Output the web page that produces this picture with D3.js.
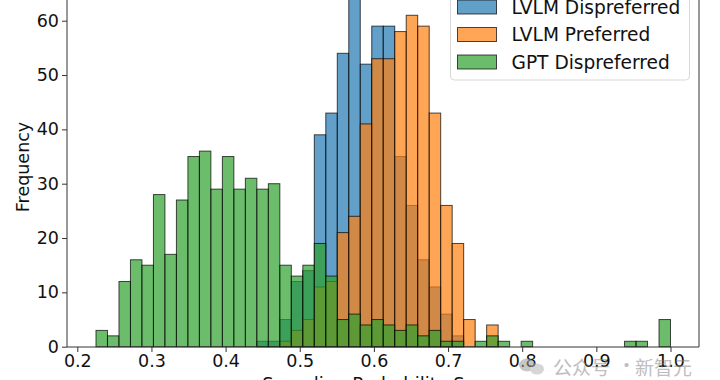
<!DOCTYPE html>
<html>
<head>
<meta charset="utf-8">
<script src="https://cdn.jsdelivr.net/npm/d3@7"></script>
<style>
  html, body { margin: 0; padding: 0; background: #fff; }
  svg { display: block; font-family: "DejaVu Sans", sans-serif; }
</style>
</head>
<body>
<svg id="chart" width="720" height="380"></svg>
<script>
// ---- Data (histogram counts per bin, 50 shared bins) ----
const binStart = 0.2252;
const binEnd = 1.0;
const binCount = 50;
const seriesNames = ["LVLM Dispreferred", "LVLM Preferred", "GPT Dispreferred"];
const lvlmDispreferred = [0,0,0,0,0,0,0,0,0,0, 0,0,0,0,1,1,5,12,14,39, 43,54,65,52,59,59,35,26,16,11, 6,2,0,0,0,0,0,0,0,0, 0,0,0,0,0,0,0,0,0,0];
const lvlmPreferred    = [0,0,0,0,0,0,0,0,0,0, 0,0,0,0,0,0,1,3,5,11, 12,21,24,41,53,53,58,61,59,43, 26,19,5,0,4,0,0,0,0,0, 0,0,0,0,0,0,0,0,0,0];
const gptDispreferred  = [3,2,12,16,15,28,17,27,35,36, 29,35,29,31,29,30,15,13,15,19, 13,5,6,4,5,4,3,4,2,3, 1,1,0,1,2,1,0,1,0,0, 0,0,0,0,0,0,1,1,0,5];
const xTicks = [0.2, 0.3, 0.4, 0.5, 0.6, 0.7, 0.8, 0.9, 1.0];
const yTicks = [0, 10, 20, 30, 40, 50, 60];
const colors = ["#1f77b4", "#ff7f0e", "#2ca02c"];
const xLabel = "Sampling Probability Score";
const yLabel = "Frequency";
const watermark = ["公众号", "·", "新智元"];

const allSeries = [lvlmDispreferred, lvlmPreferred, gptDispreferred];

// ---- Layout ----
const svg = d3.select("#chart");
const plotLeft = 67, plotRight = 699, plotBottom = 347, plotTop = -30;

const x = d3.scaleLinear().domain([0.2, 1.0]).range([77.3, 670.5]);
const y = d3.scaleLinear().domain([0, 60]).range([346.7, 20.7]);

const binW = (binEnd - binStart) / binCount;

// bars
allSeries.forEach((vals, si) => {
  svg.append("g").selectAll("rect")
    .data(vals.map((v, i) => ({ v, i })).filter(d => d.v > 0))
    .join("rect")
    .attr("x", d => x(binStart + d.i * binW))
    .attr("width", d => x(binStart + (d.i + 1) * binW) - x(binStart + d.i * binW))
    .attr("y", d => y(d.v))
    .attr("height", d => y(0) - y(d.v))
    .attr("fill", colors[si])
    .attr("fill-opacity", 0.7)
    .attr("stroke", "#000")
    .attr("stroke-opacity", 0.7)
    .attr("stroke-width", 1);
});

// spines
const axisColor = "#333";
svg.append("line").attr("x1", plotLeft).attr("x2", plotLeft).attr("y1", plotTop).attr("y2", plotBottom)
  .attr("stroke", axisColor).attr("stroke-width", 1);
svg.append("line").attr("x1", plotRight).attr("x2", plotRight).attr("y1", plotTop).attr("y2", plotBottom)
  .attr("stroke", axisColor).attr("stroke-width", 1);
svg.append("line").attr("x1", plotLeft).attr("x2", plotRight).attr("y1", plotBottom).attr("y2", plotBottom)
  .attr("stroke", axisColor).attr("stroke-width", 1);

// x axis
const xAxis = d3.axisBottom(x).tickValues(xTicks).tickFormat(d3.format(".1f")).tickSize(5).tickPadding(3);
const gx = svg.append("g").attr("transform", `translate(0,${plotBottom})`).call(xAxis);
gx.select(".domain").remove();
gx.selectAll("line").attr("stroke", axisColor);
gx.selectAll("text").attr("font-size", 17.5).attr("fill", "#111").attr("font-family", "DejaVu Sans");

// y axis
const yAxis = d3.axisLeft(y).tickValues(yTicks).tickSize(5).tickPadding(3);
const gy = svg.append("g").attr("transform", `translate(${plotLeft},0)`).call(yAxis);
gy.select(".domain").remove();
gy.selectAll("line").attr("stroke", axisColor);
gy.selectAll("text").attr("font-size", 17.5).attr("fill", "#111").attr("font-family", "DejaVu Sans");

// axis labels
svg.append("text").attr("x", 383).attr("y", 390).attr("text-anchor", "middle")
  .attr("font-size", 18).attr("fill", "#111").text(xLabel);
svg.append("text").attr("transform", "translate(29,167) rotate(-90)").attr("text-anchor", "middle")
  .attr("font-size", 17.5).attr("fill", "#111").text(yLabel);

// legend
const lg = svg.append("g");
lg.append("rect").attr("x", 450.5).attr("y", -20).attr("width", 239).attr("height", 100)
  .attr("rx", 4).attr("fill", "#fff").attr("fill-opacity", 0.8).attr("stroke", "#d8d8d8");
const legendY = [7, 34.5, 62];
seriesNames.forEach((name, i) => {
  lg.append("rect").attr("x", 457.5).attr("y", legendY[i] - 7).attr("width", 39).attr("height", 14)
    .attr("fill", colors[i]).attr("fill-opacity", 0.7).attr("stroke", "#000").attr("stroke-opacity", 0.7);
  lg.append("text").attr("x", 511.5).attr("y", legendY[i]).attr("dy", "0.36em")
    .attr("font-size", 18.6).attr("fill", "#111").text(name);
});

// watermark
const wm = svg.append("g").attr("opacity", 0.55);
wm.append("ellipse").attr("cx", 527).attr("cy", 365).attr("rx", 8).attr("ry", 6.5).attr("fill", "#9a9a9a");
wm.append("ellipse").attr("cx", 537).attr("cy", 369).attr("rx", 7).attr("ry", 5.5).attr("fill", "#b5b5b5");
wm.append("text").attr("x", 553).attr("y", 375).attr("font-size", 19).attr("fill", "#8a8a8a")
  .attr("font-family", "Noto Sans CJK SC").text(watermark[0]);
wm.append("text").attr("x", 617).attr("y", 373).attr("font-size", 19).attr("fill", "#8a8a8a")
  .attr("font-family", "Noto Sans CJK SC").text(watermark[1]);
wm.append("text").attr("x", 635).attr("y", 375).attr("font-size", 19).attr("fill", "#8a8a8a")
  .attr("font-family", "Noto Sans CJK SC").text(watermark[2]);
</script>
</body>
</html>
